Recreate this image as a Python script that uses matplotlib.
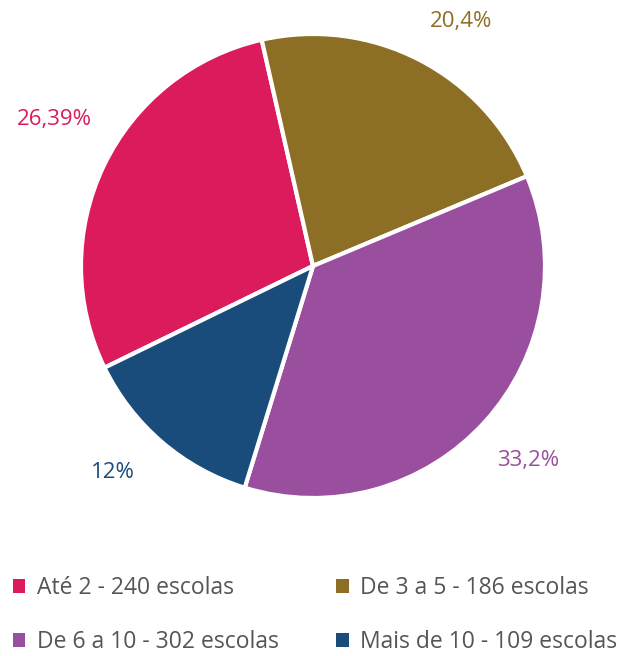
import numpy as np
import matplotlib.pyplot as plt
from matplotlib.patches import Patch

plt.rcParams['font.family'] = ['Open Sans', 'DejaVu Sans']

# dados
categorias = ["Até 2 - 240 escolas", "De 3 a 5 - 186 escolas",
              "De 6 a 10 - 302 escolas", "Mais de 10 - 109 escolas"]
escolas = [240, 186, 302, 109]
rotulos = ["26,39%", "20,4%", "33,2%", "12%"]
cores = ["#DB1B5C", "#8C6E24", "#9A4E9E", "#1A4C7B"]

fig = plt.figure(figsize=(6.32, 6.56), dpi=100)
ax = fig.add_axes([0, 0, 1, 1])

cx, cy, r = 313, 390, 232
wedges, textos = ax.pie(escolas, labels=rotulos, colors=cores,
                        startangle=206, counterclock=False,
                        center=(cx, cy), radius=r, labeldistance=1.25,
                        wedgeprops=dict(edgecolor="white", linewidth=3),
                        textprops=dict(fontsize=16))

# ajuste fino da posição dos rótulos
dist = [1.28, 1.23, 1.25, 1.24]
desvio = [-4, -4, 0, -3.5]
for w, t, c, d, o in zip(wedges, textos, cores, dist, desvio):
    ang = np.deg2rad((w.theta1 + w.theta2) / 2 + o)
    t.set_position((cx + d * r * np.cos(ang), cy + d * r * np.sin(ang)))
    t.set_color(c)
    t.set_ha("center")
    t.set_va("center")

ax.set_xlim(0, 632)
ax.set_ylim(0, 656)
ax.set_aspect("equal")
ax.axis("off")

# legenda em 2 colunas, preenchida por linha
ordem = [0, 2, 1, 3]
handles = [Patch(facecolor=cores[i], edgecolor="none") for i in ordem]
nomes = [categorias[i] for i in ordem]
leg = fig.legend(handles, nomes, loc="lower left", ncol=2,
                 bbox_to_anchor=(0.002, -0.014), frameon=False, fontsize=16.5,
                 handlelength=0.55, handleheight=0.55, handletextpad=0.5,
                 columnspacing=2.5, labelspacing=1.3, borderaxespad=0.1)
for t in leg.get_texts():
    t.set_color("#555555")

plt.savefig("out.png", dpi=100)
